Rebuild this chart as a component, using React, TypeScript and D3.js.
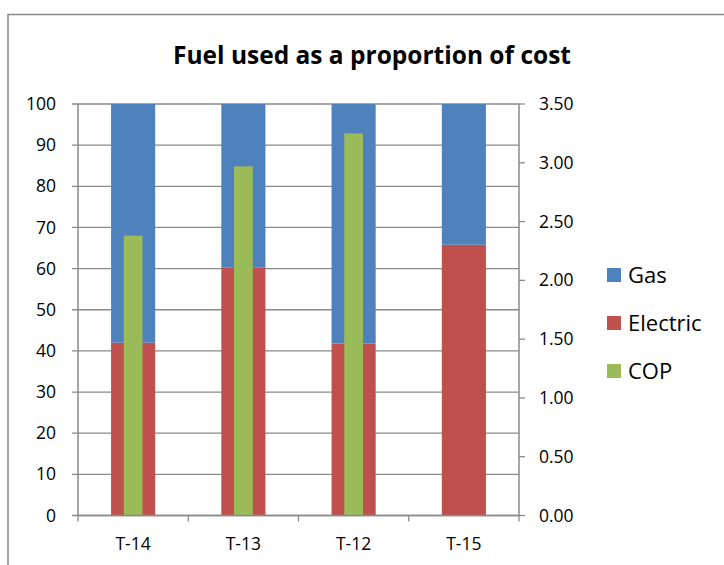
import React from "react";
import * as d3 from "d3";

const categories = ["T-14", "T-13", "T-12", "T-15"];
const electric = [42, 60.2, 41.8, 65.8];
const gas = [58, 39.8, 58.2, 34.2];
const cop = [2.38, 2.97, 3.25, 0];
const leftTicks = [0, 10, 20, 30, 40, 50, 60, 70, 80, 90, 100];
const rightTicks = [0, 0.5, 1, 1.5, 2, 2.5, 3, 3.5];
const legendItems = ["Gas", "Electric", "COP"];
const colors: Record<string, string> = { Gas: "#4f81bd", Electric: "#c0504d", COP: "#9bbb59" };

const W = 724, H = 565;
const L = 78, R = 519, T = 104, B = 515.5;
const FONT = "'Open Sans', sans-serif";

export default function App() {
  const x = d3.scaleBand<string>().domain(categories).range([L, R]).paddingInner(0).paddingOuter(0);
  const yL = d3.scaleLinear().domain([0, 100]).range([B, T]);
  const yR = d3.scaleLinear().domain([0, 3.5]).range([B, T]);
  const bw = x.bandwidth() * 0.4;
  const gw = x.bandwidth() * 0.17;
  const stack = d3.stack<any>().keys(["Electric", "Gas"])(
    categories.map((c, i) => ({ cat: c, Electric: electric[i], Gas: gas[i] }))
  );
  const grid = "#8a8a8a";
  return (
    <svg width={W} height={H} style={{ position: "absolute", left: 0, top: 0 }}>
      <rect x={0} y={0} width={W} height={H} fill="#fff" />
      <rect x={8} y={14.5} width={W + 10} height={H + 10} fill="none" stroke="#888" strokeWidth={1.5} />
      <text x={372} y={55} dy="0.35em" textAnchor="middle" fontFamily={FONT} fontWeight="bold" fontSize={24.5} fill="#000">
        Fuel used as a proportion of cost
      </text>
      {leftTicks.map((t) => (
        <g key={"l" + t}>
          <line x1={L - 6} x2={R} y1={yL(t)} y2={yL(t)} stroke={grid} strokeWidth={1.3} />
          <text x={L - 22} y={yL(t)} dy="0.35em" textAnchor="end" fontFamily={FONT} fontSize={17.5} fill="#000">
            {t}
          </text>
        </g>
      ))}
      {stack.map((s) =>
        s.map((d, i) => (
          <rect
            key={s.key + i}
            x={x(categories[i])! + (x.bandwidth() - bw) / 2}
            width={bw}
            y={yL(d[1])}
            height={yL(d[0]) - yL(d[1])}
            fill={colors[s.key]}
          />
        ))
      )}
      {cop.map((v, i) =>
        v > 0 ? (
          <rect
            key={"c" + i}
            x={x(categories[i])! + (x.bandwidth() - gw) / 2}
            width={gw}
            y={yR(v)}
            height={yR(0) - yR(v)}
            fill={colors.COP}
          />
        ) : null
      )}
      <line x1={L} x2={L} y1={T} y2={B} stroke={grid} strokeWidth={1.5} />
      <line x1={R} x2={R} y1={T} y2={B} stroke={grid} strokeWidth={1.5} />
      <line x1={L} x2={R} y1={B} y2={B} stroke={grid} strokeWidth={1.5} />
      {rightTicks.map((t) => (
        <g key={"r" + t}>
          <line x1={R} x2={R + 6} y1={yR(t)} y2={yR(t)} stroke={grid} strokeWidth={1.3} />
          <text x={R + 20} y={yR(t)} dy="0.35em" textAnchor="start" fontFamily={FONT} fontSize={17.5} fill="#000">
            {t.toFixed(2)}
          </text>
        </g>
      ))}
      {[...categories.map((c) => x(c)!), R].map((px, i) => (
        <line key={"xt" + i} x1={px} x2={px} y1={B} y2={B + 6} stroke={grid} strokeWidth={1.3} />
      ))}
      {categories.map((c) => (
        <text key={"xl" + c} x={x(c)! + x.bandwidth() / 2} y={544} dy="0.35em" textAnchor="middle" fontFamily={FONT} fontSize={17.5} fill="#000">
          {c}
        </text>
      ))}
      {legendItems.map((k, i) => (
        <g key={"lg" + k}>
          <rect x={607} y={275 + i * 48 - 7} width={14} height={14} fill={colors[k]} />
          <text x={628} y={275 + i * 48} dy="0.35em" fontFamily={FONT} fontSize={22} fill="#000">
            {k}
          </text>
        </g>
      ))}
    </svg>
  );
}
